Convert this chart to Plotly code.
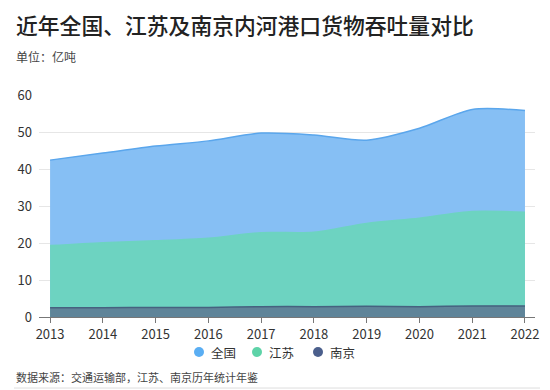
import plotly.graph_objects as go

years = [2013, 2014, 2015, 2016, 2017, 2018, 2019, 2020, 2021, 2022]
national = [42.4, 44.3, 46.2, 47.6, 49.7, 49.2, 47.8, 51.0, 56.1, 55.8]
jiangsu = [19.3, 20.1, 20.6, 21.3, 22.8, 22.9, 25.3, 26.7, 28.5, 28.3]
nanjing = [2.5, 2.5, 2.6, 2.6, 2.8, 2.8, 2.9, 2.8, 3.0, 3.0]
series_names = ["全国", "江苏", "南京"]

FONT = "Noto Sans CJK SC"
fills = ["#86BFF4", "#6DD3C1", "#5F8499"]
lines = ["#5AA6EC", "#6DD3C1", "#46617F"]
legend_colors = ["#5AAEF3", "#5ED3A8", "#4B5F8C"]

fig = go.Figure()
for name, vals, fc, lc in zip(series_names, [national, jiangsu, nanjing], fills, lines):
    fig.add_trace(go.Scatter(
        x=years, y=vals, mode="lines", line=dict(color=lc, width=1.5, shape="spline", smoothing=0.8),
        fill="tozeroy", fillcolor=fc, showlegend=False, hoverinfo="x+y", name=name))

# page body has an 8px margin, so the figure is sized 8px smaller
W, H = 542, 382
L, R, T, B = 31, 15, 87, 73
PW, PH = W - L - R, H - T - B

fig.update_layout(
    width=W, height=H,
    margin=dict(l=L, r=R, t=T, b=B, autoexpand=False),
    paper_bgcolor="white", plot_bgcolor="white",
    font=dict(family=FONT, color="#333333"),
    showlegend=False,
    xaxis=dict(range=[2012.79, 2022.19], tickmode="array", tickvals=years, ticktext=[str(y) for y in years],
               showgrid=False, showline=True, linecolor="#777777", linewidth=1,
               ticks="outside", ticklen=5, tickcolor="#777777",
               tickfont=dict(size=13, color="#333333"), zeroline=False),
    yaxis=dict(range=[0, 60], tickvals=[0, 10, 20, 30, 40, 50, 60], showgrid=True,
               gridcolor="#E6E6E6", gridwidth=1, zeroline=False, showline=False,
               tickfont=dict(size=13, color="#333333"), ticks="", ticklabelstandoff=6),
)

def px_x(fx):
    return (fx - L) / PW

fig.add_annotation(text="近年全国、江苏及南京内河港口货物吞吐量对比", xref="paper", yref="paper",
                   x=px_x(6), y=1.0, xanchor="left", yanchor="bottom", yshift=53, showarrow=False,
                   font=dict(size=21.8, color="#222222", family=FONT, weight=500))
fig.add_annotation(text="单位：亿吨", xref="paper", yref="paper",
                   x=px_x(6), y=1.0, xanchor="left", yanchor="bottom", yshift=28, showarrow=False,
                   font=dict(size=12, color="#444444", family=FONT))
fig.add_annotation(text="数据来源：交通运输部，江苏、南京历年统计年鉴", xref="paper", yref="paper",
                   x=px_x(6), y=0, xanchor="left", yanchor="top", yshift=-50, showarrow=False,
                   font=dict(size=11, color="#444444", family=FONT))
fig.add_shape(type="line", xref="paper", yref="paper", x0=px_x(6), x1=px_x(532), y0=-0.32, y1=-0.32,
              line=dict(color="#DDDDDD", width=1))

# legend
legend_circle_x = [191, 249, 310]
legend_y = -35 / PH
for name, c, cx in zip(series_names, legend_colors, legend_circle_x):
    fig.add_shape(type="circle", xref="paper", yref="paper", xsizemode="pixel", ysizemode="pixel",
                  xanchor=px_x(cx), yanchor=legend_y, x0=-5, x1=5, y0=-5, y1=5,
                  fillcolor=c, line=dict(width=0))
    fig.add_annotation(text=name, xref="paper", yref="paper", x=px_x(cx + 10), y=legend_y,
                       xanchor="left", yanchor="middle", showarrow=False,
                       font=dict(size=12.5, color="#333333", family=FONT))
fig.write_html("out.html")
